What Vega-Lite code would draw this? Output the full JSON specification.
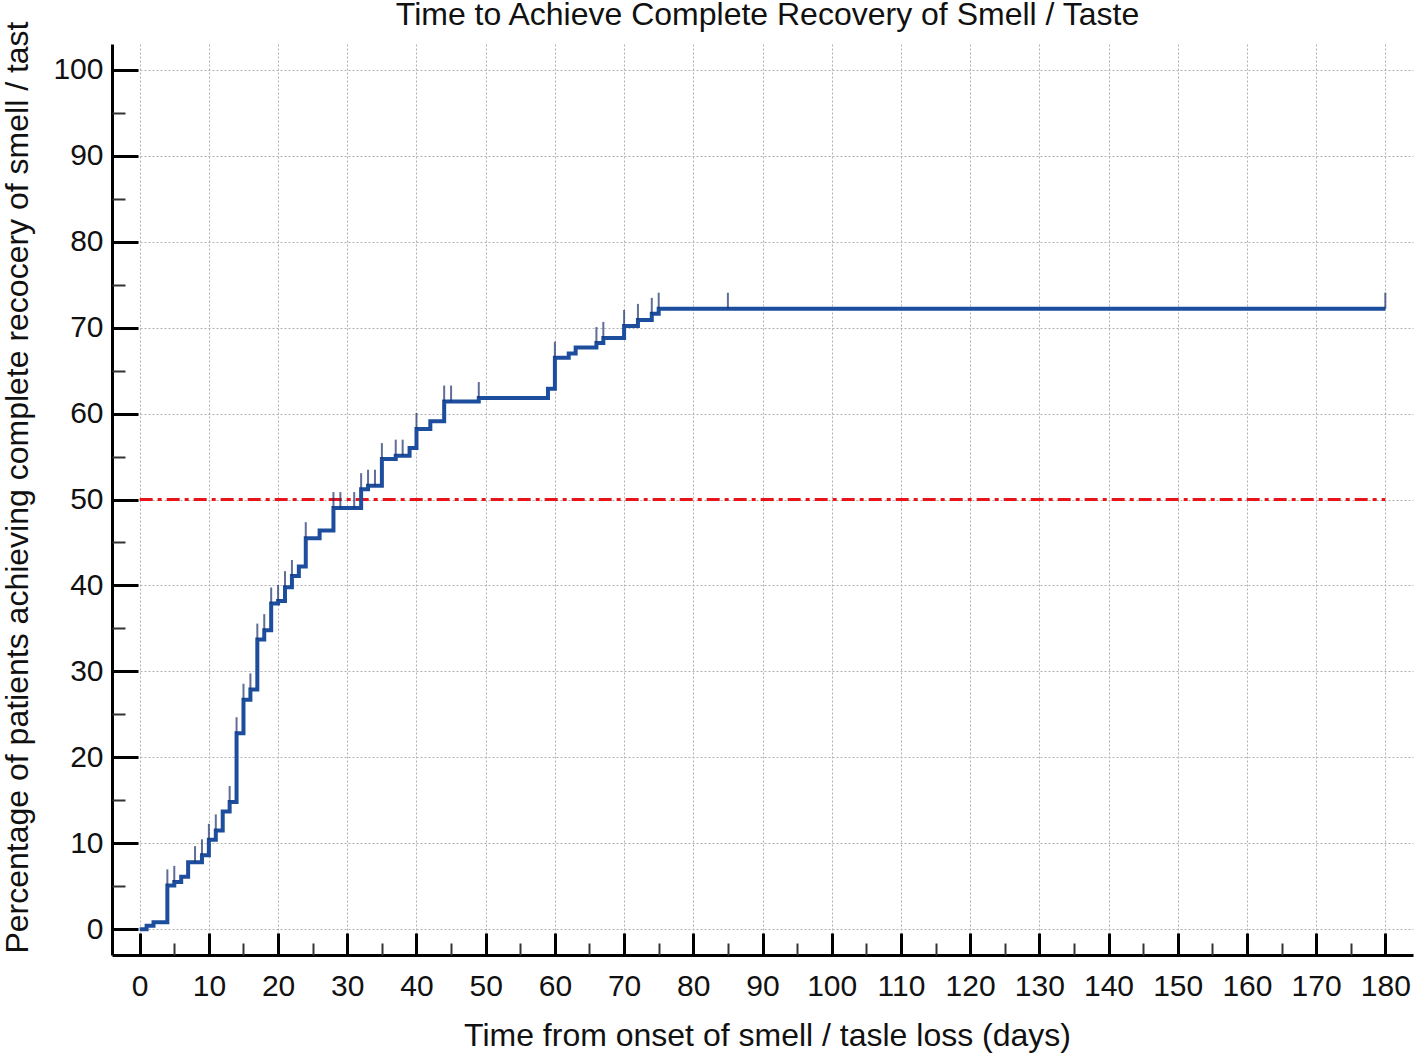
{
  "$schema": "https://vega.github.io/schema/vega-lite/v6.json",
  "width": 1301,
  "height": 911,
  "autosize": "none",
  "padding": {"left": 112, "top": 44, "right": 3, "bottom": 100},
  "background": "white",
  "title": {"text": "Time to Achieve Complete Recovery of Smell / Taste", "fontSize": 32, "fontWeight": "normal", "font": "Liberation Sans", "color": "#111", "offset": -11, "dx": 5},
  "config": {"view": {"stroke": null}, "font": "Liberation Sans"},
  "datasets": {
    "km": [
      {"t": 0, "p": 0}, {"t": 1, "p": 0.4}, {"t": 2, "p": 0.8}, {"t": 4, "p": 5.1}, {"t": 5, "p": 5.5},
      {"t": 6, "p": 6.1}, {"t": 7, "p": 7.8}, {"t": 9, "p": 8.6}, {"t": 10, "p": 10.4}, {"t": 11, "p": 11.5},
      {"t": 12, "p": 13.7}, {"t": 13, "p": 14.8}, {"t": 14, "p": 22.8}, {"t": 15, "p": 26.7}, {"t": 16, "p": 27.9},
      {"t": 17, "p": 33.7}, {"t": 18, "p": 34.8}, {"t": 19, "p": 37.9}, {"t": 20, "p": 38.2}, {"t": 21, "p": 39.8},
      {"t": 22, "p": 41.1}, {"t": 23, "p": 42.2}, {"t": 24, "p": 45.5}, {"t": 26, "p": 46.4}, {"t": 28, "p": 49.0},
      {"t": 32, "p": 51.2}, {"t": 33, "p": 51.6}, {"t": 35, "p": 54.7}, {"t": 37, "p": 55.1}, {"t": 39, "p": 56.0},
      {"t": 40, "p": 58.2}, {"t": 42, "p": 59.1}, {"t": 44, "p": 61.4}, {"t": 49, "p": 61.8}, {"t": 59, "p": 62.9},
      {"t": 60, "p": 66.5}, {"t": 62, "p": 67.0}, {"t": 63, "p": 67.7}, {"t": 66, "p": 68.2}, {"t": 67, "p": 68.8},
      {"t": 70, "p": 70.2}, {"t": 72, "p": 70.9}, {"t": 74, "p": 71.6}, {"t": 75, "p": 72.2}, {"t": 180, "p": 72.2}
    ],
    "censor": [
      {"t": 4, "p": 5.1}, {"t": 5, "p": 5.5}, {"t": 8, "p": 7.8}, {"t": 9, "p": 8.6}, {"t": 10, "p": 10.4},
      {"t": 11, "p": 11.5}, {"t": 13, "p": 14.8}, {"t": 14, "p": 22.8}, {"t": 15, "p": 26.7}, {"t": 16, "p": 27.9},
      {"t": 17, "p": 33.7}, {"t": 18, "p": 34.8}, {"t": 19, "p": 37.9}, {"t": 20, "p": 38.2}, {"t": 21, "p": 39.8},
      {"t": 22, "p": 41.1}, {"t": 24, "p": 45.5}, {"t": 28, "p": 49.0}, {"t": 29, "p": 49.0}, {"t": 31, "p": 49.0},
      {"t": 32, "p": 51.2}, {"t": 33, "p": 51.6}, {"t": 34, "p": 51.6}, {"t": 35, "p": 54.7}, {"t": 37, "p": 55.1},
      {"t": 38, "p": 55.1}, {"t": 40, "p": 58.2}, {"t": 44, "p": 61.4}, {"t": 45, "p": 61.4}, {"t": 49, "p": 61.8},
      {"t": 60, "p": 66.5}, {"t": 66, "p": 68.2}, {"t": 67, "p": 68.8}, {"t": 70, "p": 70.2}, {"t": 72, "p": 70.9},
      {"t": 74, "p": 71.6}, {"t": 75, "p": 72.2}, {"t": 85, "p": 72.2}, {"t": 180, "p": 72.2}
    ]
  },
  "layer": [
    {
      "data": {"name": "km"},
      "mark": {"type": "point", "opacity": 0},
      "encoding": {
        "x": {"field": "t", "type": "quantitative",
          "scale": {"domain": [-4, 184], "nice": false, "zero": false},
          "axis": {"orient": "bottom", "values": [0,10,20,30,40,50,60,70,80,90,100,110,120,130,140,150,160,170,180],
            "title": "Time from onset of smell / tasle loss (days)", "titleFontSize": 32, "titleFontWeight": "normal", "titleColor": "#111",
            "titleX": 655, "titleY": 80, "titleBaseline": "middle",
            "labelFontSize": 30, "labelColor": "#111", "labelPadding": 38, "labelFlush": false,
            "tickSize": -22, "tickWidth": 3, "tickColor": "#000",
            "domainColor": "#000", "domainWidth": 3,
            "grid": true, "gridColor": "#b0b0b0", "gridDash": [2, 2], "gridWidth": 1}},
        "y": {"field": "p", "type": "quantitative",
          "scale": {"domain": [-3, 103], "nice": false, "zero": false},
          "axis": {"orient": "left", "values": [0,10,20,30,40,50,60,70,80,90,100],
            "title": "Percentage of patients achieving complete recocery of smell / tast", "titleFontSize": 32, "titleFontWeight": "normal", "titleColor": "#111",
            "titleX": -95, "titleY": 443, "titleBaseline": "middle", "titleAlign": "center", "titleAngle": -90,
            "labelFontSize": 30, "labelColor": "#111", "labelPadding": 35, "labelFlush": false,
            "tickSize": -26, "tickWidth": 3, "tickColor": "#000",
            "domainColor": "#000", "domainWidth": 3,
            "grid": true, "gridColor": "#b0b0b0", "gridDash": [2, 2], "gridWidth": 1}}
      }
    },
    {
      "data": {"name": "km"},
      "mark": {"type": "point", "opacity": 0},
      "encoding": {
        "x": {"field": "t", "type": "quantitative",
          "axis": {"orient": "bottom", "values": [5,15,25,35,45,55,65,75,85,95,105,115,125,135,145,155,165,175],
            "title": null, "labels": false, "domain": false, "grid": false,
            "tickSize": -12, "tickWidth": 2, "tickColor": "#333"}},
        "y": {"field": "p", "type": "quantitative",
          "axis": {"orient": "left", "values": [5,15,25,35,45,55,65,75,85,95],
            "title": null, "labels": false, "domain": false, "grid": false,
            "tickSize": -13, "tickWidth": 2, "tickColor": "#333"}}
      }
    },
    {
      "data": {"values": [{"a": 0, "b": 180, "y": 50}]},
      "mark": {"type": "rule", "color": "#e8141a", "strokeWidth": 3, "strokeDash": [13, 5, 4, 5]},
      "encoding": {
        "x": {"field": "a", "type": "quantitative", "axis": null},
        "x2": {"field": "b"},
        "y": {"field": "y", "type": "quantitative", "axis": null}
      }
    },
    {
      "data": {"name": "km"},
      "mark": {"type": "line", "interpolate": "step-after", "color": "#1d4e9e", "strokeWidth": 4},
      "encoding": {
        "x": {"field": "t", "type": "quantitative", "axis": null},
        "y": {"field": "p", "type": "quantitative", "axis": null}
      }
    },
    {
      "data": {"name": "censor"},
      "mark": {"type": "tick", "orient": "vertical", "size": 16, "yOffset": -8, "thickness": 2, "color": "#1b2f6b"},
      "encoding": {
        "x": {"field": "t", "type": "quantitative", "axis": null},
        "y": {"field": "p", "type": "quantitative", "axis": null}
      }
    }
  ],
  "resolve": {"axis": {"x": "independent", "y": "independent"}}
}
